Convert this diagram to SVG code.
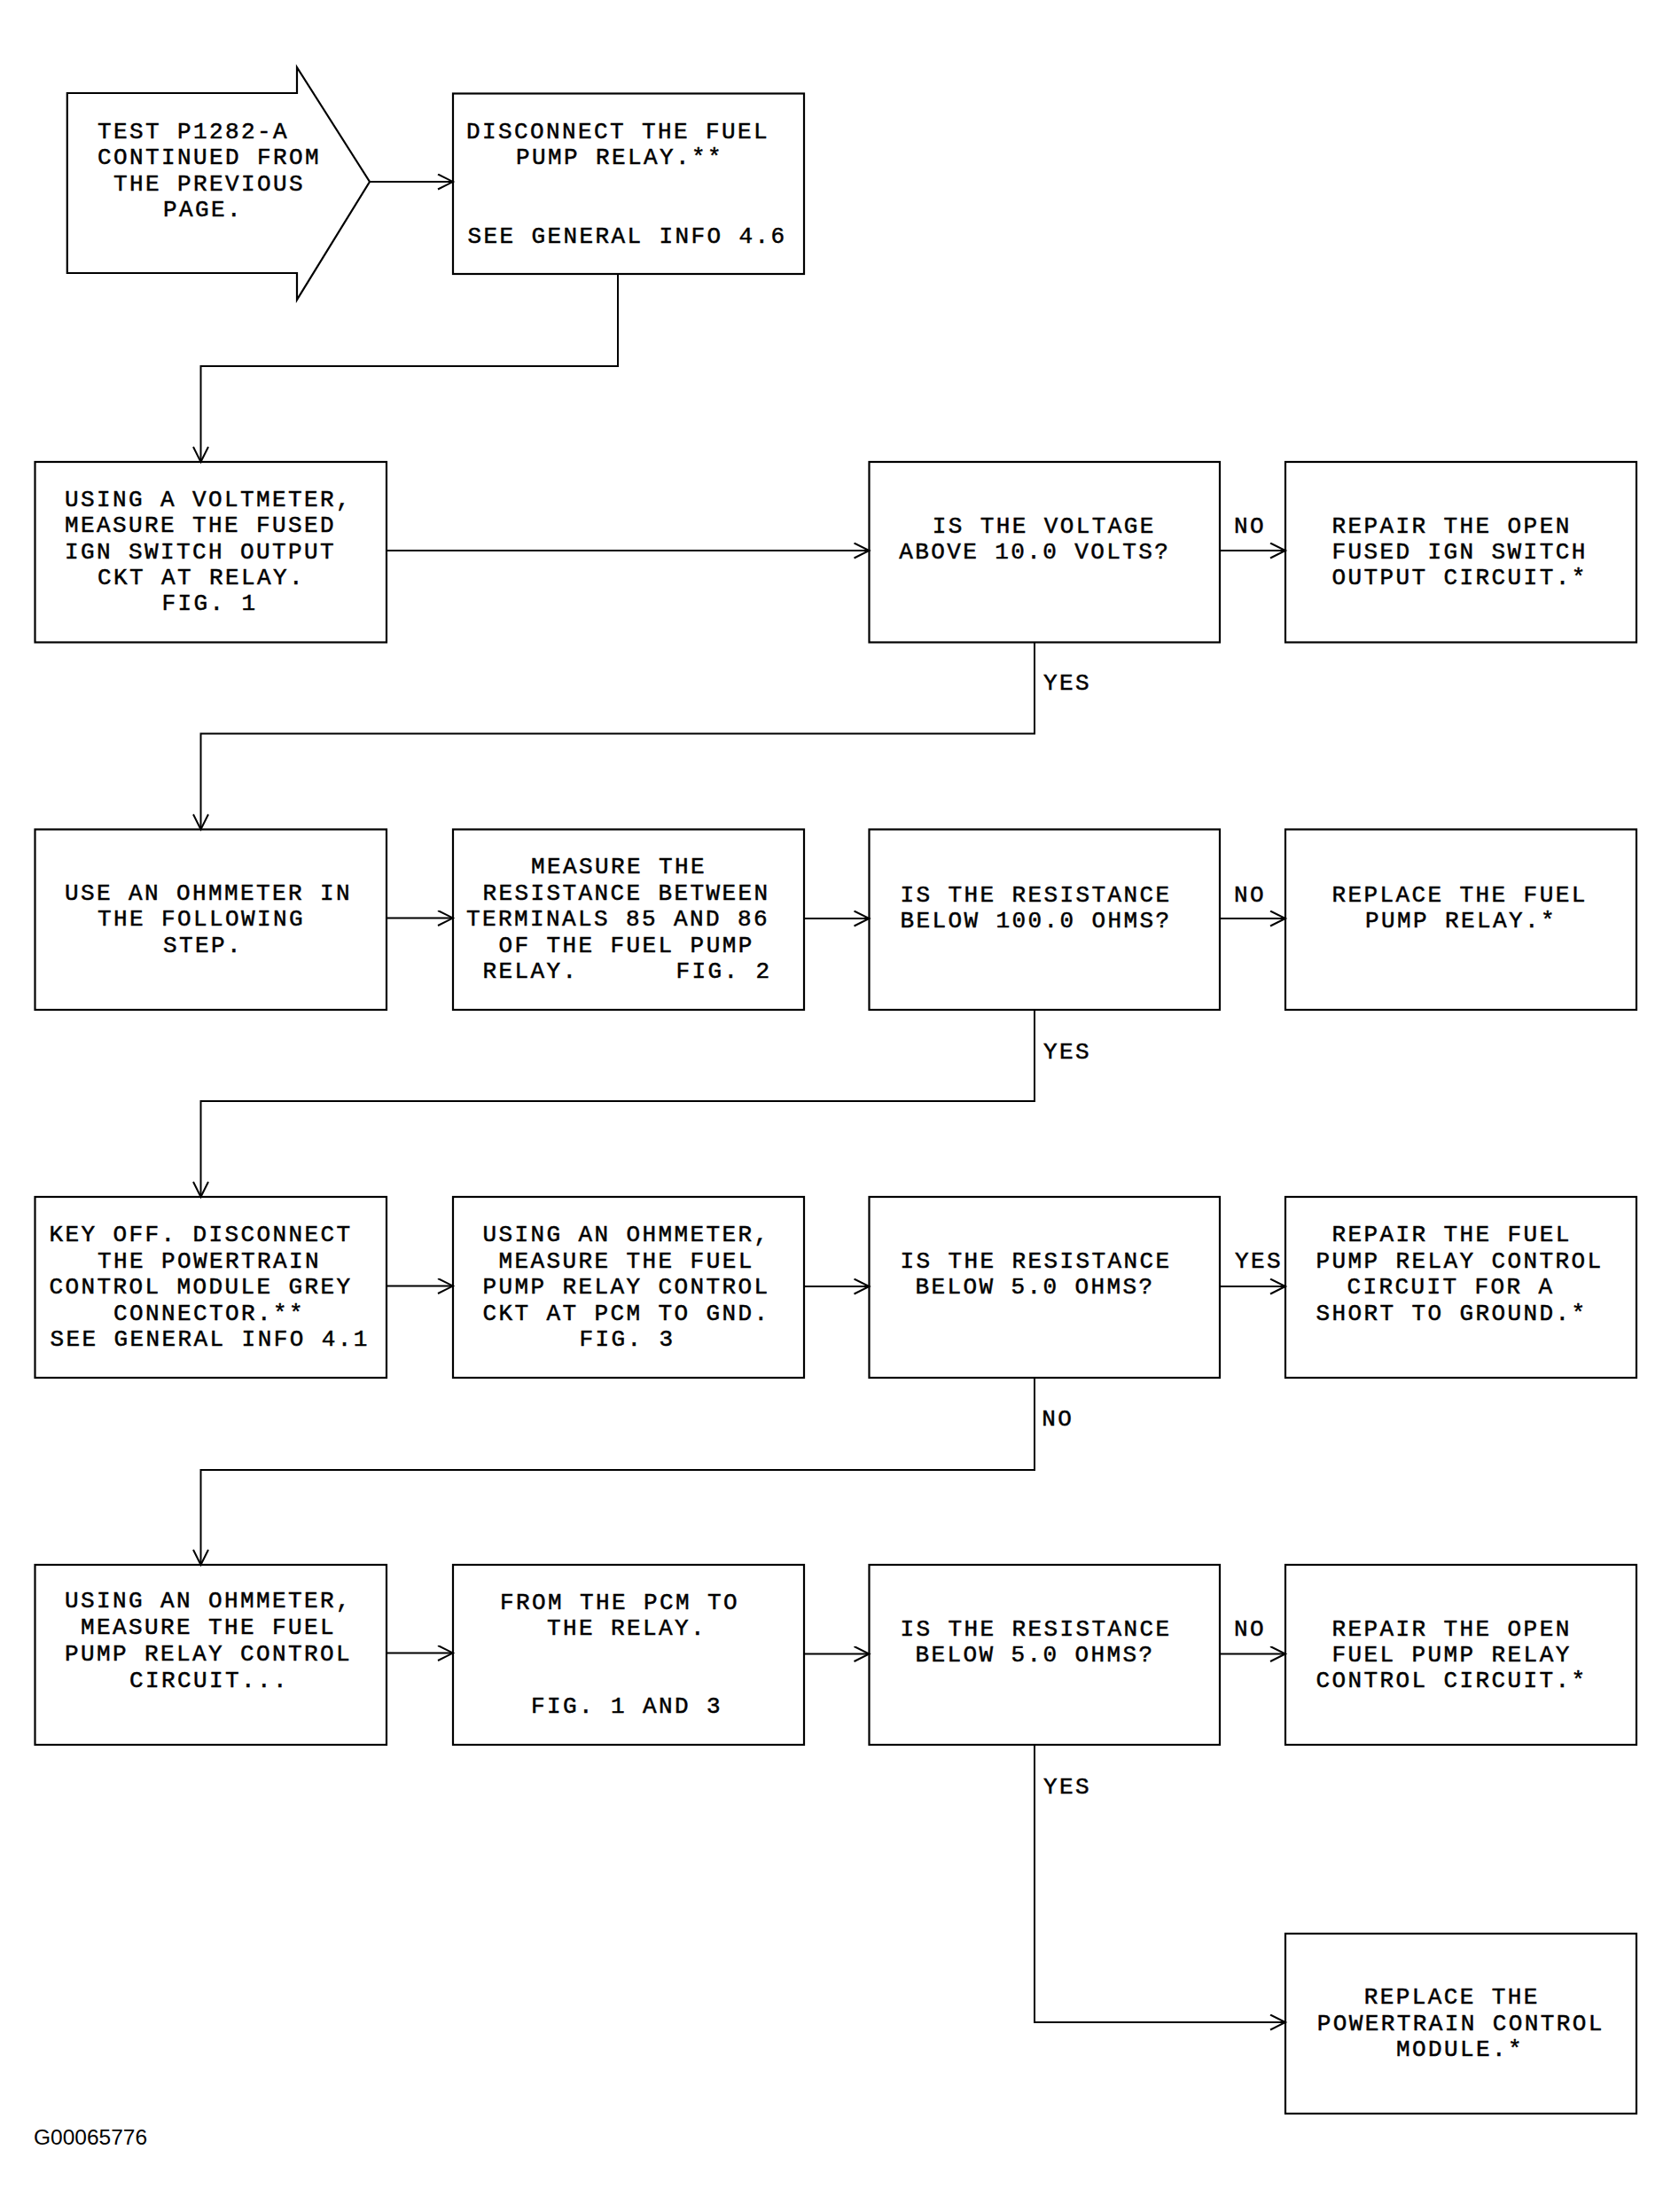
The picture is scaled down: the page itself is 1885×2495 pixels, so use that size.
<svg xmlns="http://www.w3.org/2000/svg" width="1885" height="2495" viewBox="0 0 1885 2495">
<style>
.bg{fill:#fff}
.box{fill:none;stroke:#000;stroke-width:2.2}
.t{font-family:"Liberation Mono","DejaVu Sans Mono",monospace;font-size:26px;letter-spacing:2.4px;fill:#000;stroke:#000;stroke-width:0.5}
.lbl{font-family:"Liberation Mono","DejaVu Sans Mono",monospace;font-size:26px;letter-spacing:2.4px;fill:#000;stroke:#000;stroke-width:0.5}
.c{fill:none;stroke:#000;stroke-width:2}
.id{font-family:"Liberation Sans",Arial,sans-serif;font-size:24.5px;fill:#000}
</style>
<defs>
<marker id="ah" markerUnits="userSpaceOnUse" markerWidth="22" markerHeight="22" refX="18" refY="9" orient="auto">
<path d="M1,0.5 L18,9 L1,17.5" fill="none" stroke="#000" stroke-width="2"/>
</marker>
</defs>
<rect class="bg" x="0" y="0" width="1885" height="2495"/>

<g id="n0">
<polygon class="box" points="75.8,105 335,105 335,76 417,205 335,338 335,308 75.8,308"/>
<text class="t" x="110" y="156">TEST P1282-A</text>
<text class="t" x="110" y="185">CONTINUED FROM</text>
<text class="t" x="128" y="214.5">THE PREVIOUS</text>
<text class="t" x="184" y="244">PAGE.</text>
</g>

<g id="n1">
<rect class="box" x="511" y="105.5" width="396" height="203.5"/>
<text class="t" x="526" y="156">DISCONNECT THE FUEL</text>
<text class="t" x="582" y="185">PUMP RELAY.**</text>
<text class="t" x="527.5" y="274">SEE GENERAL INFO 4.6</text>
</g>

<g id="n2">
<rect class="box" x="39.5" y="521" width="396.5" height="203.5"/>
<text class="t" x="73" y="570.5">USING A VOLTMETER,</text>
<text class="t" x="73" y="600">MEASURE THE FUSED</text>
<text class="t" x="73" y="629.5">IGN SWITCH OUTPUT</text>
<text class="t" x="110" y="659">CKT AT RELAY.</text>
<text class="t" x="182.6" y="688">FIG. 1</text>
</g>

<g id="n3">
<rect class="box" x="980.5" y="521" width="395.5" height="203.5"/>
<text class="t" x="1051.7" y="601">IS THE VOLTAGE</text>
<text class="t" x="1014.3" y="630">ABOVE 10.0 VOLTS?</text>
</g>

<g id="n4">
<rect class="box" x="1450" y="521" width="396" height="203.5"/>
<text class="t" x="1502.6" y="601">REPAIR THE OPEN</text>
<text class="t" x="1502.6" y="630">FUSED IGN SWITCH</text>
<text class="t" x="1502.6" y="659">OUTPUT CIRCUIT.*</text>
</g>

<g id="n5">
<rect class="box" x="39.5" y="935.5" width="396.5" height="203.5"/>
<text class="t" x="73" y="1014.7">USE AN OHMMETER IN</text>
<text class="t" x="110" y="1044">THE FOLLOWING</text>
<text class="t" x="184" y="1074">STEP.</text>
</g>

<g id="n6">
<rect class="box" x="511" y="935.5" width="396" height="203.5"/>
<text class="t" x="599" y="985">MEASURE THE</text>
<text class="t" x="544.5" y="1015">RESISTANCE BETWEEN</text>
<text class="t" x="526" y="1044">TERMINALS 85 AND 86</text>
<text class="t" x="562.6" y="1074">OF THE FUEL PUMP</text>
<text class="t" x="544.5" y="1103">RELAY.</text>
<text class="t" x="762.6" y="1103">FIG. 2</text>
</g>

<g id="n7">
<rect class="box" x="980.5" y="935.5" width="395.5" height="203.5"/>
<text class="t" x="1015.5" y="1016.6">IS THE RESISTANCE</text>
<text class="t" x="1015.5" y="1045.7">BELOW 100.0 OHMS?</text>
</g>

<g id="n8">
<rect class="box" x="1450" y="935.5" width="396" height="203.5"/>
<text class="t" x="1502.6" y="1016.6">REPLACE THE FUEL</text>
<text class="t" x="1540" y="1045.7">PUMP RELAY.*</text>
</g>

<g id="n9">
<rect class="box" x="39.5" y="1350" width="396.5" height="204"/>
<text class="t" x="55.4" y="1400">KEY OFF. DISCONNECT</text>
<text class="t" x="110" y="1430">THE POWERTRAIN</text>
<text class="t" x="55.4" y="1459">CONTROL MODULE GREY</text>
<text class="t" x="128" y="1489">CONNECTOR.**</text>
<text class="t" x="56.6" y="1518">SEE GENERAL INFO 4.1</text>
</g>

<g id="n10">
<rect class="box" x="511" y="1350" width="396" height="204"/>
<text class="t" x="544.5" y="1400">USING AN OHMMETER,</text>
<text class="t" x="562.6" y="1430">MEASURE THE FUEL</text>
<text class="t" x="544.5" y="1459">PUMP RELAY CONTROL</text>
<text class="t" x="544.5" y="1489">CKT AT PCM TO GND.</text>
<text class="t" x="653.5" y="1518">FIG. 3</text>
</g>

<g id="n11">
<rect class="box" x="980.5" y="1350" width="395.5" height="204"/>
<text class="t" x="1015.5" y="1429.5">IS THE RESISTANCE</text>
<text class="t" x="1032.4" y="1459.4">BELOW 5.0 OHMS?</text>
</g>

<g id="n12">
<rect class="box" x="1450" y="1350" width="396" height="204"/>
<text class="t" x="1502.6" y="1400.4">REPAIR THE FUEL</text>
<text class="t" x="1484.5" y="1429.5">PUMP RELAY CONTROL</text>
<text class="t" x="1519.5" y="1459.4">CIRCUIT FOR A</text>
<text class="t" x="1484.5" y="1488.8">SHORT TO GROUND.*</text>
</g>

<g id="n13">
<rect class="box" x="39.5" y="1765" width="396.5" height="203"/>
<text class="t" x="73" y="1813">USING AN OHMMETER,</text>
<text class="t" x="91" y="1843">MEASURE THE FUEL</text>
<text class="t" x="73" y="1873">PUMP RELAY CONTROL</text>
<text class="t" x="146" y="1902.7">CIRCUIT...</text>
</g>

<g id="n14">
<rect class="box" x="511" y="1765" width="396" height="203"/>
<text class="t" x="564" y="1815">FROM THE PCM TO</text>
<text class="t" x="617" y="1844">THE RELAY.</text>
<text class="t" x="599" y="1932">FIG. 1 AND 3</text>
</g>

<g id="n15">
<rect class="box" x="980.5" y="1765" width="395.5" height="203"/>
<text class="t" x="1015.5" y="1844.6">IS THE RESISTANCE</text>
<text class="t" x="1032.4" y="1873.7">BELOW 5.0 OHMS?</text>
</g>

<g id="n16">
<rect class="box" x="1450" y="1765" width="396" height="203"/>
<text class="t" x="1502.6" y="1844.6">REPAIR THE OPEN</text>
<text class="t" x="1502.6" y="1873.7">FUEL PUMP RELAY</text>
<text class="t" x="1484.5" y="1902.7">CONTROL CIRCUIT.*</text>
</g>

<g id="n17">
<rect class="box" x="1450" y="2181" width="396" height="203"/>
<text class="t" x="1538.8" y="2260">REPLACE THE</text>
<text class="t" x="1485.7" y="2290">POWERTRAIN CONTROL</text>
<text class="t" x="1575" y="2319.3">MODULE.*</text>
</g>

<g id="connectors">
<path class="c" d="M417,205 L511,205" marker-end="url(#ah)"/>
<path class="c" d="M697,309 L697,413 L226.5,413 L226.5,521" marker-end="url(#ah)"/>
<path class="c" d="M436,621 L980.5,621" marker-end="url(#ah)"/>
<path class="c" d="M1376,621 L1450,621" marker-end="url(#ah)"/>
<path class="c" d="M1167,724.5 L1167,827.5 L226.5,827.5 L226.5,935.5" marker-end="url(#ah)"/>
<path class="c" d="M436,1035.5 L511,1035.5" marker-end="url(#ah)"/>
<path class="c" d="M907,1036 L980.5,1036" marker-end="url(#ah)"/>
<path class="c" d="M1376,1036 L1450,1036" marker-end="url(#ah)"/>
<path class="c" d="M1167,1139 L1167,1242 L226.5,1242 L226.5,1350" marker-end="url(#ah)"/>
<path class="c" d="M436,1450.5 L511,1450.5" marker-end="url(#ah)"/>
<path class="c" d="M907,1451 L980.5,1451" marker-end="url(#ah)"/>
<path class="c" d="M1376,1451 L1450,1451" marker-end="url(#ah)"/>
<path class="c" d="M1167,1554 L1167,1658 L226.5,1658 L226.5,1765" marker-end="url(#ah)"/>
<path class="c" d="M436,1864.5 L511,1864.5" marker-end="url(#ah)"/>
<path class="c" d="M907,1865.5 L980.5,1865.5" marker-end="url(#ah)"/>
<path class="c" d="M1376,1865.5 L1450,1865.5" marker-end="url(#ah)"/>
<path class="c" d="M1167,1968 L1167,2281 L1450,2281" marker-end="url(#ah)"/>
<text class="lbl" x="1392" y="601">NO</text>
<text class="lbl" x="1177" y="778">YES</text>
<text class="lbl" x="1392" y="1016.6">NO</text>
<text class="lbl" x="1177" y="1193.5">YES</text>
<text class="lbl" x="1393" y="1429.5">YES</text>
<text class="lbl" x="1175.3" y="1608">NO</text>
<text class="lbl" x="1392" y="1844.6">NO</text>
<text class="lbl" x="1177" y="2023">YES</text>
</g>

<text class="id" x="38" y="2419">G00065776</text>
</svg>
